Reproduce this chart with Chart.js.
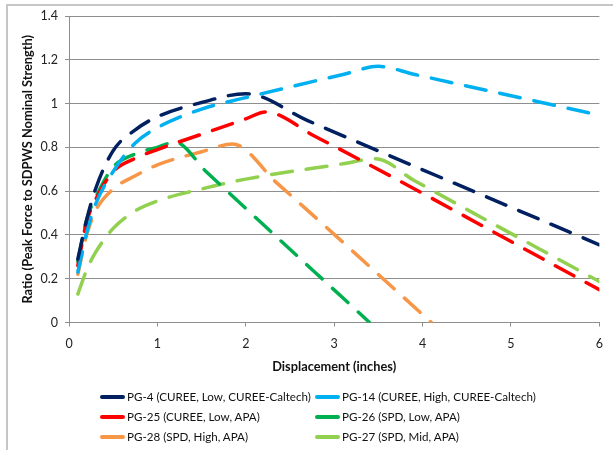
<!DOCTYPE html>
<html>
<head>
<meta charset="utf-8">
<script src="https://cdn.jsdelivr.net/npm/chart.js@4.4.1/dist/chart.umd.min.js"></script>
<style>
  html, body { margin: 0; padding: 0; background: #fff; }
  #wrap { position: relative; width: 613px; height: 450px; overflow: hidden; }
  #frame { position: absolute; left: 6px; top: 4px; width: 640px; height: 480px;
           border: 2px solid #c6c6c6; box-sizing: border-box; }
  #chart { position: absolute; left: 0; top: 0; }
  #legend { position: absolute; left: 100px; top: 387px; display: grid;
            grid-template-columns: 215px auto; grid-auto-rows: 20px;
            font-family: Lato, "Open Sans", sans-serif; font-size: 11.6px; color: #111; }
  #legend div { line-height: 20px; white-space: nowrap; }
  #legend span { display: inline-block; width: 25px; height: 4px; border-radius: 2px;
                 vertical-align: middle; margin-right: 2px; position: relative; top: -1px; }
</style>
</head>
<body>
<div id="wrap">
  <div id="frame"></div>
  <canvas id="chart" width="613" height="450"></canvas>
  <div id="legend"></div>
</div>
<script>
// backbone curves: displacement (in) vs. peak force ratio
const pg4X = [0.1, 0.2, 0.3, 0.5, 0.75, 1.0, 1.5, 2.0, 2.7, 6.0];
const pg4Y = [0.29, 0.47, 0.61, 0.785, 0.88, 0.94, 1.005, 1.045, 0.922, 0.355];

const pg14X = [0.1, 0.2, 0.3, 0.5, 0.75, 1.0, 1.5, 2.0, 3.1, 3.5, 3.9, 6.0];
const pg14Y = [0.23, 0.41, 0.54, 0.69, 0.82, 0.89, 0.975, 1.027, 1.133, 1.17, 1.134, 0.947];

const pg25X = [0.1, 0.2, 0.3, 0.5, 0.75, 1.0, 1.5, 2.0, 2.22, 2.78, 6.0];
const pg25Y = [0.26, 0.46, 0.56, 0.69, 0.75, 0.79, 0.86, 0.93, 0.962, 0.851, 0.15];

const pg26X = [0.1, 0.2, 0.3, 0.5, 0.75, 1.0, 1.2, 1.55, 3.4];
const pg26Y = [0.28, 0.47, 0.57, 0.71, 0.77, 0.80, 0.824, 0.69, 0];

const pg28X = [0.1, 0.2, 0.3, 0.5, 0.75, 1.0, 1.5, 1.85, 2.35, 4.1];
const pg28Y = [0.22, 0.40, 0.51, 0.61, 0.67, 0.72, 0.78, 0.815, 0.638, 0];

const pg27X = [0.1, 0.2, 0.3, 0.5, 0.75, 1.0, 1.5, 2.0, 3.1, 3.47, 3.9, 6.0];
const pg27Y = [0.13, 0.24, 0.32, 0.43, 0.51, 0.555, 0.61, 0.655, 0.725, 0.748, 0.65, 0.187];

const seriesNames = [
    'PG-4 (CUREE, Low, CUREE-Caltech)',
    'PG-14 (CUREE, High, CUREE-Caltech)',
    'PG-25 (CUREE, Low, APA)',
    'PG-26 (SPD, Low, APA)',
    'PG-28 (SPD, High, APA)',
    'PG-27 (SPD, Mid, APA)'
];
const seriesColors = ['#002060', '#00B0F0', '#FF0000', '#00B050', '#F79646', '#92D050'];

const xTickLabels = ['0', '1', '2', '3', '4', '5', '6'];
const yTickLabels = ['0', '0.2', '0.4', '0.6', '0.8', '1', '1.2', '1.4'];

const seriesX = [pg4X, pg14X, pg25X, pg26X, pg28X, pg27X];
const seriesY = [pg4Y, pg14Y, pg25Y, pg26Y, pg28Y, pg27Y];

const gridGray = '#8e8e8e';
const fontFamily = 'Lato, "Open Sans", sans-serif';

const datasets = seriesNames.map((name, i) => ({
    label: name,
    data: seriesX[i].map((x, j) => ({ x: x, y: seriesY[i][j] })),
    borderColor: seriesColors[i],
    backgroundColor: seriesColors[i],
    borderWidth: 3.5,
    borderDash: [21, 14],
    borderCapStyle: 'round',
    pointRadius: 0,
    cubicInterpolationMode: 'monotone',
    fill: false
}));

new Chart(document.getElementById('chart'), {
    type: 'scatter',
    data: { datasets: datasets },
    options: {
        responsive: false,
        animation: false,
        showLine: true,
        layout: { padding: { top: 16, right: 7, left: 0, bottom: 0 } },
        plugins: {
            legend: { display: false },
            tooltip: { enabled: false }
        },
        scales: {
            x: {
                type: 'linear',
                min: 0,
                max: 6,
                afterFit: (scale) => { scale.height = 127.5; },
                ticks: {
                    stepSize: 1,
                    padding: 10,
                    color: '#222',
                    font: { family: fontFamily, size: 12.5 },
                    callback: (value) => xTickLabels[Math.round(value)]
                },
                grid: { drawOnChartArea: false, drawTicks: true, tickLength: 4, tickColor: gridGray },
                border: { color: gridGray, width: 1 },
                title: {
                    display: true,
                    text: 'Displacement (inches)',
                    color: '#111',
                    font: { family: fontFamily, size: 12.8, weight: 'bold' },
                    padding: { top: 0, bottom: 75.5 }
                }
            },
            y: {
                min: 0,
                max: 1.4,
                afterFit: (scale) => { scale.width = 69; },
                ticks: {
                    stepSize: 0.2,
                    padding: 7,
                    color: '#222',
                    font: { family: fontFamily, size: 12.5 },
                    callback: (value) => yTickLabels[Math.round(value / 0.2)]
                },
                grid: { color: gridGray, tickColor: gridGray, tickLength: 4, lineWidth: 1 },
                border: { color: gridGray, width: 1 },
                title: {
                    display: true,
                    text: 'Ratio (Peak Force to SDPWS Nominal Strength)',
                    color: '#111',
                    font: { family: fontFamily, size: 12.8, weight: 'bold' },
                    padding: { top: 20.5, bottom: 0 }
                }
            }
        }
    }
});

// two-column legend under the chart
const legendEl = document.getElementById('legend');
seriesNames.forEach((name, i) => {
    const item = document.createElement('div');
    const swatch = document.createElement('span');
    swatch.style.background = seriesColors[i];
    item.appendChild(swatch);
    item.appendChild(document.createTextNode(name));
    legendEl.appendChild(item);
});
</script>
</body>
</html>
